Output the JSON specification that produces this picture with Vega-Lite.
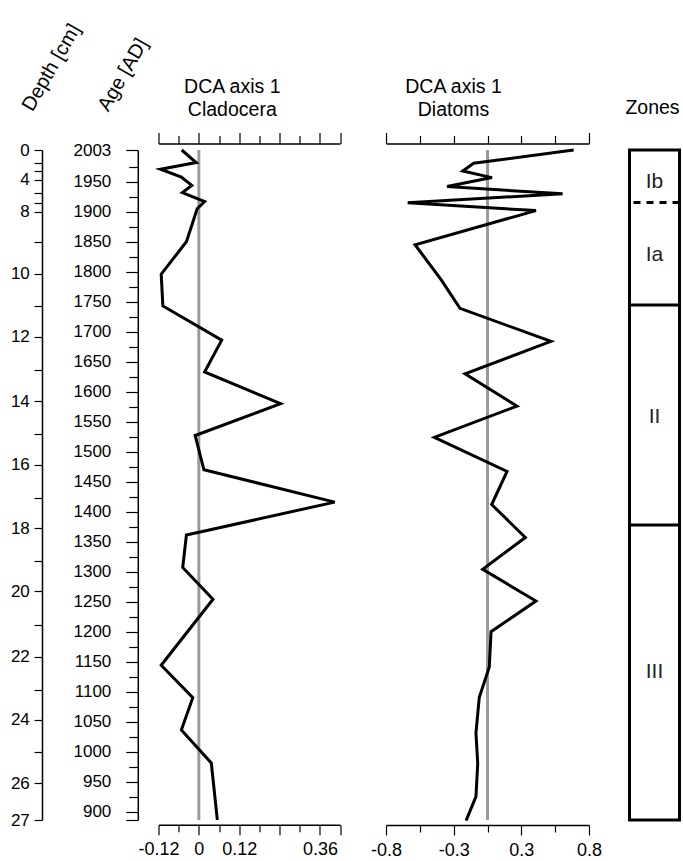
{
  "$schema": "https://vega.github.io/schema/vega-lite/v6.json",
  "padding": {"left": 10, "top": 20, "right": 0, "bottom": 0},
  "background": "white",
  "config": {
    "view": {"stroke": null},
    "font": "Liberation Sans",
    "axis": {
      "domainColor": "black", "domainWidth": 1.5, "tickColor": "black", "tickWidth": 1.2,
      "labelColor": "black", "labelFont": "Liberation Sans", "titleFont": "Liberation Sans",
      "titleFontWeight": "normal", "titleColor": "black", "grid": false,
      "labelFlush": false, "labelOverlap": false, "labelBound": false
    }
  },
  "datasets": {
    "clad": [
      {"age": 2003, "value": -0.051}, {"age": 1982, "value": -0.008}, {"age": 1971, "value": -0.114},
      {"age": 1958, "value": -0.052}, {"age": 1944, "value": -0.021}, {"age": 1932, "value": -0.049},
      {"age": 1917, "value": 0.017}, {"age": 1905, "value": -0.005}, {"age": 1850, "value": -0.037},
      {"age": 1796, "value": -0.112}, {"age": 1743, "value": -0.107}, {"age": 1686, "value": 0.068},
      {"age": 1633, "value": 0.017}, {"age": 1580, "value": 0.243}, {"age": 1527, "value": -0.011},
      {"age": 1470, "value": 0.015}, {"age": 1416, "value": 0.404}, {"age": 1361, "value": -0.037},
      {"age": 1307, "value": -0.048}, {"age": 1254, "value": 0.042}, {"age": 1144, "value": -0.112},
      {"age": 1090, "value": -0.018}, {"age": 1036, "value": -0.052}, {"age": 981, "value": 0.037},
      {"age": 886, "value": 0.055}
    ],
    "diat": [
      {"age": 2003, "value": 0.679}, {"age": 1981, "value": -0.109}, {"age": 1968, "value": -0.195},
      {"age": 1957, "value": 0.035}, {"age": 1942, "value": -0.319}, {"age": 1930, "value": 0.592},
      {"age": 1915, "value": -0.629}, {"age": 1902, "value": 0.382}, {"age": 1845, "value": -0.571},
      {"age": 1787, "value": -0.366}, {"age": 1739, "value": -0.217}, {"age": 1684, "value": 0.5},
      {"age": 1630, "value": -0.177}, {"age": 1576, "value": 0.232}, {"age": 1524, "value": -0.419},
      {"age": 1467, "value": 0.154}, {"age": 1412, "value": 0.033}, {"age": 1357, "value": 0.298},
      {"age": 1304, "value": -0.038}, {"age": 1251, "value": 0.382}, {"age": 1200, "value": 0.028},
      {"age": 1141, "value": 0.014}, {"age": 1090, "value": -0.065}, {"age": 1031, "value": -0.091},
      {"age": 980, "value": -0.077}, {"age": 925, "value": -0.091}, {"age": 885, "value": -0.169}
    ],
    "depth": [
      {"depth": 0, "age": 2003}, {"depth": 2, "age": 1982}, {"depth": 3, "age": 1968}, {"depth": 4, "age": 1953},
      {"depth": 6, "age": 1931}, {"depth": 7, "age": 1915}, {"depth": 8, "age": 1900}, {"depth": 9, "age": 1850},
      {"depth": 10, "age": 1797}, {"depth": 11, "age": 1743}, {"depth": 12, "age": 1692}, {"depth": 13, "age": 1636},
      {"depth": 14, "age": 1584}, {"depth": 15, "age": 1530}, {"depth": 16, "age": 1478}, {"depth": 17, "age": 1423},
      {"depth": 18, "age": 1372}, {"depth": 19, "age": 1318}, {"depth": 20, "age": 1267}, {"depth": 21, "age": 1211},
      {"depth": 22, "age": 1158}, {"depth": 23, "age": 1103}, {"depth": 24, "age": 1053}, {"depth": 25, "age": 999},
      {"depth": 26, "age": 947}, {"depth": 27, "age": 886}
    ],
    "zero": [{"x": 0}],
    "zonebox": [{"top": 2003, "bottom": 886}],
    "bounds": [{"age": 1915.5, "kind": "dashed"}, {"age": 1744.5, "kind": "solid"}, {"age": 1378, "kind": "solid"}],
    "zlabels": [{"label": "Ib", "age": 1950}, {"label": "Ia", "age": 1828}, {"label": "II", "age": 1558}, {"label": "III", "age": 1133}]
  },
  "bounds": "flush",
  "spacing": 40.5,
  "hconcat": [
    {
      "width": 75.2, "height": 670,
      "data": {"name": "depth"},
      "mark": {"type": "point", "opacity": 0},
      "encoding": {
        "y": {
          "field": "age", "type": "quantitative",
          "scale": {"domain": [886, 2003], "nice": false, "zero": false},
          "axis": {
            "orient": "left",
            "values": [2003,1982,1968,1953,1931,1915,1900,1850,1797,1743,1692,1636,1584,1530,1478,1423,1372,1318,1267,1211,1158,1103,1053,999,947,886],
            "labelExpr": "['0','','','4','','','8','','10','','12','','14','','16','','18','','20','','22','','24','','26','27'][indexof([2003,1982,1968,1953,1931,1915,1900,1850,1797,1743,1692,1636,1584,1530,1478,1423,1372,1318,1267,1211,1158,1103,1053,999,947,886], datum.value)]",
            "tickSize": 8, "labelPadding": 4.7, "labelFontSize": 17,
            "title": "Depth [cm]", "titleFontSize": 20, "titleAngle": 300,
            "titleAlign": "left", "titleBaseline": "alphabetic", "titleX": -10, "titleY": -38
          }
        }
      }
    },
    {
      "width": 186.8, "height": 670,
      "resolve": {"axis": {"x": "independent"}},
      "layer": [
        {
          "data": {"name": "zero"},
          "mark": {"type": "rule", "color": "#9a9a9a", "strokeWidth": 3},
          "encoding": {
            "x": {
              "field": "x", "type": "quantitative",
              "scale": {"domain": [-0.12, 0.42], "range": [0, 181.6], "nice": false, "zero": false},
              "axis": {
                "orient": "bottom", "offset": 4.7,
                "values": [-0.12,-0.06,0,0.06,0.12,0.18,0.24,0.3,0.36,0.42],
                "tickSize": {"condition": {"test": "indexof([-0.12,0,0.12,0.24,0.36,0.42], datum.value) >= 0", "value": 10}, "value": 7},
                "labelExpr": "datum.value == -0.12 ? '-0.12' : (datum.value == 0 || datum.value == 0.12 || datum.value == 0.36) ? '' + datum.value : ''",
                "labelFontSize": 18, "labelPadding": 6, "title": null
              }
            }
          }
        },
        {
          "data": {"name": "clad"},
          "mark": {"type": "line", "color": "black", "strokeWidth": 3},
          "encoding": {
            "x": {
              "field": "value", "type": "quantitative",
              "scale": {"domain": [-0.12, 0.42], "range": [0, 181.6], "nice": false, "zero": false},
              "axis": {
                "orient": "top", "offset": 6.5,
                "values": [-0.12,-0.06,0,0.06,0.12,0.18,0.24,0.3,0.36,0.42],
                "tickSize": {"condition": {"test": "indexof([-0.12,0,0.12,0.24,0.36,0.42], datum.value) >= 0", "value": 11}, "value": 8},
                "labels": false,
                "title": ["DCA axis 1", "Cladocera"], "titleFontSize": 19.5, "titleLineHeight": 23,
                "titleAlign": "center", "titleBaseline": "alphabetic", "titleX": 73.3, "titleY": -51.5
              }
            },
            "y": {
              "field": "age", "type": "quantitative",
              "scale": {"domain": [886, 2003], "nice": false, "zero": false},
              "axis": {
                "orient": "left", "offset": 20.7,
                "values": [2003,1975,1950,1925,1900,1875,1850,1825,1800,1775,1750,1725,1700,1675,1650,1625,1600,1575,1550,1525,1500,1475,1450,1425,1400,1375,1350,1325,1300,1275,1250,1225,1200,1175,1150,1125,1100,1075,1050,1025,1000,975,950,925,900,886],
                "labelExpr": "(datum.value % 50 == 0 || datum.value == 2003) ? '' + datum.value : ''",
                "tickSize": {"condition": {"test": "datum.value % 50 == 0 || datum.value == 2003 || datum.value == 886", "value": 12}, "value": 9},
                "labelPadding": 15, "labelFontSize": 17,
                "title": "Age [AD]", "titleFontSize": 20, "titleAngle": 300,
                "titleAlign": "left", "titleBaseline": "alphabetic", "titleX": -30, "titleY": -38
              }
            },
            "order": {"field": "age", "sort": "descending"}
          }
        }
      ]
    },
    {
      "width": 203, "height": 670,
      "resolve": {"axis": {"x": "independent"}},
      "layer": [
        {
          "data": {"name": "zero"},
          "mark": {"type": "rule", "color": "#9a9a9a", "strokeWidth": 3},
          "encoding": {
            "x": {
              "field": "x", "type": "quantitative",
              "scale": {"domain": [-0.8, 0.8], "nice": false, "zero": false},
              "axis": {
                "orient": "bottom", "offset": 5,
                "values": [-0.8,-0.5333,-0.2667,0,0.2667,0.5333,0.8],
                "tickSize": {"condition": {"test": "indexof([-0.8,-0.2667,0.2667,0.8], datum.value) >= 0", "value": 10}, "value": 7},
                "labelExpr": "datum.value == -0.8 ? '-0.8' : datum.value == -0.2667 ? '-0.3' : datum.value == 0.2667 ? '0.3' : datum.value == 0.8 ? '0.8' : ''",
                "labelFontSize": 18, "labelPadding": 6, "title": null
              }
            }
          }
        },
        {
          "data": {"name": "diat"},
          "mark": {"type": "line", "color": "black", "strokeWidth": 3},
          "encoding": {
            "x": {
              "field": "value", "type": "quantitative",
              "scale": {"domain": [-0.8, 0.8], "nice": false, "zero": false},
              "axis": {
                "orient": "top", "offset": 6.5,
                "values": [-0.8,-0.5333,-0.2667,0,0.2667,0.5333,0.8],
                "tickSize": {"condition": {"test": "indexof([-0.8,0.8], datum.value) >= 0", "value": 11}, "value": 8},
                "labels": false,
                "title": ["DCA axis 1", "Diatoms"], "titleFontSize": 19.5, "titleLineHeight": 23,
                "titleAlign": "center", "titleBaseline": "alphabetic", "titleX": 67, "titleY": -51.5
              }
            },
            "y": {
              "field": "age", "type": "quantitative",
              "scale": {"domain": [886, 2003], "nice": false, "zero": false},
              "axis": null
            },
            "order": {"field": "age", "sort": "descending"}
          }
        }
      ]
    },
    {
      "width": 50, "height": 670,
      "title": {"text": "Zones", "fontSize": 19.5, "fontWeight": "normal", "font": "Liberation Sans", "color": "black", "anchor": "middle", "baseline": "alphabetic", "offset": 15, "dx": -2},
      "layer": [
        {
          "data": {"name": "zonebox"},
          "mark": {"type": "rect", "fill": "white", "fillOpacity": 0, "stroke": "black", "strokeWidth": 3},
          "encoding": {
            "y": {"field": "top", "type": "quantitative", "scale": {"domain": [886, 2003], "nice": false, "zero": false}, "axis": null},
            "y2": {"field": "bottom"}
          }
        },
        {
          "data": {"name": "bounds"},
          "transform": [{"filter": "datum.kind == 'solid'"}],
          "mark": {"type": "rule", "color": "black", "strokeWidth": 3},
          "encoding": {"y": {"field": "age", "type": "quantitative", "scale": {"domain": [886, 2003], "nice": false, "zero": false}, "axis": null}}
        },
        {
          "data": {"name": "bounds"},
          "transform": [{"filter": "datum.kind == 'dashed'"}],
          "mark": {"type": "rule", "color": "black", "strokeWidth": 3, "strokeDash": [7, 6]},
          "encoding": {"y": {"field": "age", "type": "quantitative", "scale": {"domain": [886, 2003], "nice": false, "zero": false}, "axis": null}}
        },
        {
          "data": {"name": "zlabels"},
          "mark": {"type": "text", "fontSize": 21, "color": "#222", "font": "Liberation Sans"},
          "encoding": {
            "y": {"field": "age", "type": "quantitative", "scale": {"domain": [886, 2003], "nice": false, "zero": false}, "axis": null},
            "text": {"field": "label"}
          }
        }
      ]
    }
  ]
}
